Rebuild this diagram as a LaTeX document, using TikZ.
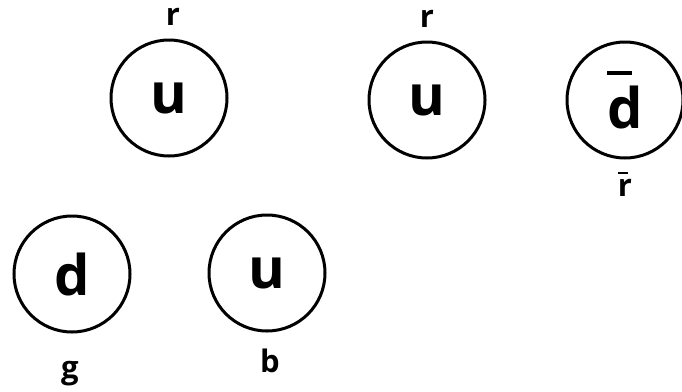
\documentclass[tikz,border=0pt]{standalone}
\usepackage{fontspec}
\setmainfont{Open Sans}
\usetikzlibrary{positioning}

\tikzset{
  quark/.style={draw, circle, line width=3pt, minimum size=116pt,
    inner sep=0pt, font=\fontsize{56}{56}\selectfont\bfseries},
  colour/.style={inner sep=0pt, font=\fontsize{31}{31}\selectfont\bfseries}
}
% bar over a letter
\newcommand{\barred}[3]{\rlap{\rule[#1]{#2}{0.07em}}#3}

\begin{document}
\begin{tikzpicture}[x=1pt,y=-1pt]
  \useasboundingbox (0,0) rectangle (682,391);

  % top row
  \node[quark] (u1) at (169,98) {u};
  \node[quark] (u2) at (427,100) {u};
  \node[quark] (dbar) at (625,100) {\barred{0.95em}{0.45em}{d}};
  \node[colour, above=13pt of u1.north, xshift=4pt] (r1) {r};
  \node[colour, above=13pt of u2.north] (r2) {r};
  \node[colour, below=12pt of dbar.south] (rbar) {\barred{0.72em}{0.32em}{r}};

  % bottom row
  \node[quark] (d1) at (72,274) {d};
  \node[quark] (u3) at (267,273) {u};
  \node[colour, below=28pt of d1.south, xshift=-2pt] (g1) {g};
  \node[colour, below=16pt of u3.south, xshift=3pt] (b1) {b};
\end{tikzpicture}
\end{document}
